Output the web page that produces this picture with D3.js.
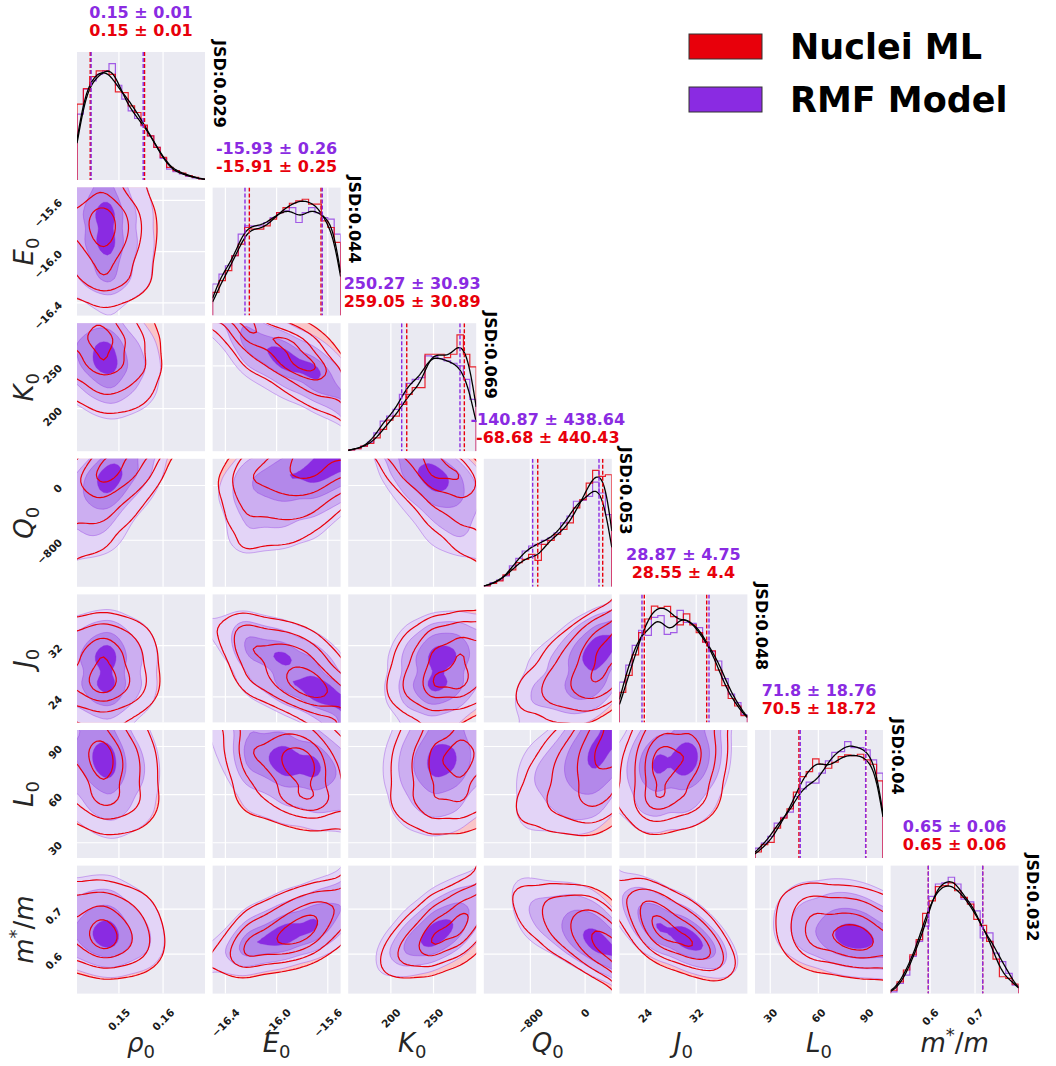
<!DOCTYPE html>
<html>
<head>
<meta charset="utf-8">
<script src="https://cdn.jsdelivr.net/npm/d3@7"></script>
<style>
  body { margin: 0; background: #fff; }
  svg { display: block; font-family: "DejaVu Sans", sans-serif; }
  .tick { font-size: 10.5px; font-weight: bold; fill: #1a1a1a; }
  .axis-label { font-size: 26px; fill: #262626; }
  .stat { font-size: 16px; font-weight: bold; }
  .jsd { font-size: 16px; font-weight: bold; fill: #000; }
  .legend-text { font-size: 35px; font-weight: bold; fill: #000; }
</style>
</head>
<body>
<svg id="chart" width="1056" height="1066"></svg>
<script>
/* ============================================================
   Data
   ============================================================ */

// parameter order: rho0, E0, K0, Q0, J0, L0, m*/m
const axisRanges = [[0.1405, 0.1695], [-16.5, -15.5], [150, 300], [-1480, 390], [20, 40], [20.5, 100.3], [0.512, 0.797]];
const tickValues = [[0.15, 0.16], [-16.4, -16.0, -15.6], [200, 250], [-800, 0], [24, 32], [30, 60, 90], [0.6, 0.7]];
const tickLabels = [['0.15', '0.16'], ['\u221216.4', '\u221216.0', '\u221215.6'], ['200', '250'], ['\u2212800', '0'], ['24', '32'], ['30', '60', '90'], ['0.6', '0.7']];

// 20-bin histograms (relative counts) for RMF Model (purple) and Nuclei ML (red)
const histRMF = [
  [198, 273, 298, 318, 328, 350, 285, 243, 208, 185, 163, 133, 98, 65, 33, 25, 18, 11, 6, 3],
  [95, 125, 150, 180, 245, 270, 270, 270, 280, 295, 310, 315, 325, 280, 310, 325, 310, 295, 290, 245],
  [4, 8, 15, 27, 55, 90, 105, 125, 170, 203, 215, 220, 285, 283, 277, 270, 263, 255, 215, 155],
  [3, 13, 20, 33, 63, 86, 108, 123, 128, 140, 148, 163, 193, 213, 258, 261, 273, 316, 283, 218],
  [118, 168, 226, 270, 255, 308, 313, 258, 263, 328, 293, 290, 278, 236, 208, 180, 128, 83, 58, 23],
  [30, 45, 65, 105, 122, 138, 185, 208, 228, 225, 255, 292, 318, 320, 350, 332, 332, 325, 295, 255],
  [5, 30, 55, 110, 155, 200, 288, 325, 328, 345, 325, 280, 272, 245, 165, 180, 120, 95, 60, 25]
];
const histML = [
  [228, 275, 311, 328, 328, 318, 265, 263, 223, 203, 165, 133, 98, 68, 38, 28, 21, 13, 8, 3],
  [70, 105, 135, 180, 215, 265, 260, 260, 270, 290, 310, 325, 338, 345, 350, 335, 335, 285, 265, 220],
  [4, 8, 15, 23, 40, 65, 93, 105, 140, 170, 190, 190, 290, 290, 290, 280, 290, 348, 290, 252],
  [3, 10, 18, 36, 51, 73, 83, 98, 80, 128, 140, 158, 173, 193, 238, 263, 313, 351, 333, 338],
  [88, 138, 198, 263, 303, 341, 336, 340, 310, 286, 318, 286, 263, 235, 210, 153, 108, 70, 48, 20],
  [18, 40, 47, 90, 120, 148, 198, 245, 260, 298, 282, 270, 288, 305, 310, 308, 312, 295, 282, 232],
  [10, 35, 70, 115, 160, 238, 275, 317, 320, 328, 305, 285, 265, 220, 202, 155, 102, 50, 45, 28]
];

// 16% / 84% quantile markers (dashed lines)
const quantRMF = [[0.1437, 0.1555], [-16.247, -15.643], [212.7, 281.0], [-766, 203], [23.53, 34.0], [48.7, 89.5], [0.596, 0.717]];
const quantML = [[0.1435, 0.1558], [-16.213, -15.653], [218.6, 286.1], [-692, 257], [23.89, 33.64], [47.9, 89.5], [0.596, 0.717]];

const meanRMF = [0.15, -15.93, 250.27, -140.87, 28.87, 71.8, 0.65];
const stdRMF = [0.01, 0.26, 30.93, 438.64, 4.75, 18.76, 0.06];
const meanML = [0.15, -15.91, 259.05, -68.68, 28.55, 70.5, 0.65];
const stdML = [0.01, 0.25, 30.89, 440.43, 4.4, 18.72, 0.06];
const jsdValues = [0.029, 0.044, 0.069, 0.053, 0.048, 0.04, 0.032];

// correlation of each lower-triangle pair (row var vs column var)
const pairCorr = [
  [],
  [-0.05],
  [-0.15, -0.6],
  [0.35, 0.3, -0.4],
  [0.0, -0.5, 0.15, 0.4],
  [-0.15, -0.2, 0.1, 0.35, 0.15],
  [-0.1, 0.5, 0.55, -0.55, -0.6, -0.2]
];

const axisLabels = [
  [['\u03c1', 'i'], ['0', 'sub']],
  [['E', 'i'], ['0', 'sub']],
  [['K', 'i'], ['0', 'sub']],
  [['Q', 'i'], ['0', 'sub']],
  [['J', 'i'], ['0', 'sub']],
  [['L', 'i'], ['0', 'sub']],
  [['m', 'i'], ['*', 'sup'], ['/', 'n'], ['m', 'i']]
];

const legendNames = ['Nuclei ML', 'RMF Model'];

/* ============================================================
   Layout / style
   ============================================================ */

const C_RMF = '#8a2be2';
const C_ML = '#e8000b';
const BANDS = ['#e3d4f7', '#ccaef1', '#b388ea', '#8a2be2'];
const ML_FILL = '#f9c5c9';

const N = axisRanges.length;
const left0 = 77, top0 = 52, cell = 128, step = 135.6;
const colX = j => left0 + j * step;
const rowY = i => top0 + i * step;

const svg = d3.select('#chart');
const defs = svg.append('defs');

// corner-style mass levels (0.5, 1, 1.5, 2 sigma)
const massLevels = [0.5, 1, 1.5, 2].map(s => 1 - Math.exp(-0.5 * s * s));
const G = 36, PAD = 3, GN = G + 2 * PAD;

/* ============================================================
   Helpers
   ============================================================ */

// gaussian smoothing of a histogram; edgeNorm keeps levels flat at the borders
function smooth(hist, range, bwBins, edgeNorm) {
  const nb = hist.length, d = (range[1] - range[0]) / nb, bw = bwBins * d;
  const centers = hist.map((_, k) => range[0] + (k + 0.5) * d);
  return x => {
    let s = 0, w = 0;
    centers.forEach((c, k) => {
      const g = Math.exp(-0.5 * ((x - c) / bw) ** 2);
      s += hist[k] * g; w += g;
    });
    return edgeNorm ? s / w : s * d / (bw * Math.sqrt(2 * Math.PI));
  };
}

function normInv(p) {
  const a = [-3.969683028665376e+01, 2.209460984245205e+02, -2.759285104469687e+02, 1.383577518672690e+02, -3.066479806614716e+01, 2.506628277459239e+00];
  const b = [-5.447609879822406e+01, 1.615858368580409e+02, -1.556989798598866e+02, 6.680131188771972e+01, -1.328068155288572e+01];
  const c = [-7.784894002430293e-03, -3.223964580411365e-01, -2.400758277161838e+00, -2.549732539343734e+00, 4.374664141464968e+00, 2.938163982698783e+00];
  const d = [7.784695709041462e-03, 3.224671290700398e-01, 2.445134137142996e+00, 3.754408661907416e+00];
  const pl = 0.02425;
  if (p < pl) {
    const q = Math.sqrt(-2 * Math.log(p));
    return (((((c[0] * q + c[1]) * q + c[2]) * q + c[3]) * q + c[4]) * q + c[5]) / ((((d[0] * q + d[1]) * q + d[2]) * q + d[3]) * q + 1);
  }
  if (p > 1 - pl) {
    const q = Math.sqrt(-2 * Math.log(1 - p));
    return -(((((c[0] * q + c[1]) * q + c[2]) * q + c[3]) * q + c[4]) * q + c[5]) / ((((d[0] * q + d[1]) * q + d[2]) * q + d[3]) * q + 1);
  }
  const q = p - 0.5, r = q * q;
  return (((((a[0] * r + a[1]) * r + a[2]) * r + a[3]) * r + a[4]) * r + a[5]) * q / (((((b[0] * r + b[1]) * r + b[2]) * r + b[3]) * r + b[4]) * r + 1);
}

function marginal(hist, v) {
  const [a, b] = axisRanges[v];
  const f = smooth(hist, axisRanges[v], 1.2, true);
  const fx = d3.range(GN).map(k => f(a + (k - PAD + 0.5) * (b - a) / G));
  const tot = d3.sum(fx);
  let cum = 0;
  const z = fx.map(val => {
    const p = (cum + val / 2) / tot;
    cum += val;
    return normInv(Math.min(1 - 1e-6, Math.max(1e-6, p)));
  });
  return { fx, z };
}

// 2D density from the two marginals joined by a gaussian copula
function density(hists, i, j, r) {
  const mx = marginal(hists[j], j), my = marginal(hists[i], i);
  const vals = new Float64Array(GN * GN);
  const k = 1 / Math.sqrt(1 - r * r);
  for (let row = 0; row < GN; row++) {
    const yi = GN - 1 - row;
    for (let col = 0; col < GN; col++) {
      const zx = mx.z[col], zy = my.z[yi];
      const cop = k * Math.exp(-(r * r * (zx * zx + zy * zy) - 2 * r * zx * zy) / (2 * (1 - r * r)));
      vals[row * GN + col] = cop * mx.fx[col] * my.fx[yi];
    }
  }
  return vals;
}

function levelThresholds(vals) {
  const inside = [];
  for (let r = PAD; r < PAD + G; r++) for (let c = PAD; c < PAD + G; c++) inside.push(vals[r * GN + c]);
  inside.sort((a, b) => b - a);
  const cum = d3.cumsum(inside), tot = cum[cum.length - 1];
  return massLevels.map(L => inside[Math.min(inside.length - 1, d3.bisectLeft(cum, L * tot))]).sort((a, b) => a - b);
}

/* ============================================================
   Panels
   ============================================================ */

function drawDiag(body, v, xs, y0) {
  const hr = histRMF[v], hm = histML[v];
  const [a, b] = axisRanges[v];
  const nb = hr.length, d = (b - a) / nb;
  const ys = d3.scaleLinear().domain([0, 1.1 * d3.max([...hr, ...hm])]).range([y0 + cell, y0]);

  const stepLine = d3.line().x(p => xs(p[0])).y(p => ys(p[1])).curve(d3.curveStepAfter);
  const stepPts = h => [[a, 0], ...h.map((val, k) => [a + k * d, val]), [b, h[nb - 1]], [b, 0]];
  body.append('path').attr('d', stepLine(stepPts(hr)))
    .attr('fill', 'none').attr('stroke', C_RMF).attr('stroke-opacity', 0.75).attr('stroke-width', 1.2);
  body.append('path').attr('d', stepLine(stepPts(hm)))
    .attr('fill', 'none').attr('stroke', C_ML).attr('stroke-opacity', 0.85).attr('stroke-width', 1.2);

  // KDE curves
  const kdeLine = d3.line().x(p => xs(p[0])).y(p => ys(p[1]));
  const grid = d3.range(121).map(k => a + k * (b - a) / 120);
  [hr, hm].forEach(h => {
    const f = smooth(h, axisRanges[v], 1.0, false);
    body.append('path').attr('d', kdeLine(grid.map(x => [x, f(x)])))
      .attr('fill', 'none').attr('stroke', '#000').attr('stroke-width', 1.3);
  });

  // quantile markers
  [[quantML[v], C_ML], [quantRMF[v], C_RMF]].forEach(([q, col]) => {
    q.forEach(x => {
      body.append('line').attr('x1', xs(x)).attr('x2', xs(x)).attr('y1', y0).attr('y2', y0 + cell)
        .attr('stroke', col).attr('stroke-width', 1.4).attr('stroke-dasharray', '4,2');
    });
  });
}

function drawPair(body, i, j, x0, y0) {
  const r = pairCorr[i][j];
  const proj = d3.geoTransform({
    point(px, py) { this.stream.point(x0 + (px - PAD) * cell / G, y0 + (py - PAD) * cell / G); }
  });
  const path = d3.geoPath(proj);
  const build = hists => {
    const vals = density(hists, i, j, r);
    return d3.contours().size([GN, GN]).thresholds(levelThresholds(vals))(vals);
  };
  const cR = build(histRMF), cM = build(histML);

  body.append('path').attr('d', path(cM[0])).attr('fill', ML_FILL);
  cR.forEach((c, k) => {
    body.append('path').attr('d', path(c)).attr('fill', BANDS[k])
      .attr('stroke', C_RMF).attr('stroke-opacity', 0.35).attr('stroke-width', 1);
  });
  cM.forEach(c => {
    body.append('path').attr('d', path(c)).attr('fill', 'none')
      .attr('stroke', C_ML).attr('stroke-width', 1.2);
  });
}

for (let i = 0; i < N; i++) {
  for (let j = 0; j <= i; j++) {
    const x0 = colX(j), y0 = rowY(i);
    const g = svg.append('g');
    const clipId = `clip-${i}-${j}`;
    defs.append('clipPath').attr('id', clipId).append('rect')
      .attr('x', x0).attr('y', y0).attr('width', cell).attr('height', cell);

    g.append('rect').attr('x', x0).attr('y', y0).attr('width', cell).attr('height', cell).attr('fill', '#eaeaf2');

    const xs = d3.scaleLinear().domain(axisRanges[j]).range([x0, x0 + cell]);
    tickValues[j].forEach(t => {
      g.append('line').attr('x1', xs(t)).attr('x2', xs(t)).attr('y1', y0).attr('y2', y0 + cell)
        .attr('stroke', '#fff').attr('stroke-width', 1.2);
    });
    let ys = null;
    if (i !== j) {
      ys = d3.scaleLinear().domain(axisRanges[i]).range([y0 + cell, y0]);
      tickValues[i].forEach(t => {
        g.append('line').attr('x1', x0).attr('x2', x0 + cell).attr('y1', ys(t)).attr('y2', ys(t))
          .attr('stroke', '#fff').attr('stroke-width', 1.2);
      });
    }

    const body = g.append('g').attr('clip-path', `url(#${clipId})`);
    if (i === j) drawDiag(body, i, xs, y0);
    else drawPair(body, i, j, x0, y0);

    // bottom tick labels
    if (i === N - 1) {
      tickValues[j].forEach((t, k) => {
        const txt = svg.append('text').attr('class', 'tick').attr('text-anchor', 'middle')
          .attr('dominant-baseline', 'central').text(tickLabels[j][k]);
        const w = txt.node().getComputedTextLength();
        const cy = y0 + cell + 14 + (w + 7.6) / 2.83;
        txt.attr('transform', `translate(${xs(t)},${cy}) rotate(-45)`);
      });
    }
    // left tick labels
    if (j === 0 && i > 0) {
      tickValues[i].forEach((t, k) => {
        svg.append('text').attr('class', 'tick').attr('text-anchor', 'end')
          .attr('transform', `translate(${x0 - 14},${ys(t) + 3}) rotate(-45)`)
          .text(tickLabels[i][k]);
      });
    }
  }
}

/* ============================================================
   Axis labels, stats, JSD, legend
   ============================================================ */

function mathLabel(sel, parts) {
  let shift = 0;
  parts.forEach(([s, kind]) => {
    const t = sel.append('tspan').text(s);
    if (kind === 'i') t.attr('font-style', 'italic');
    if (kind === 'sub') { t.attr('font-size', '18px').attr('dy', 6 - shift); shift = 6; }
    else if (kind === 'sup') { t.attr('font-size', '18px').attr('dy', -11 - shift); shift = -11; }
    else if (shift !== 0) { t.attr('dy', -shift); shift = 0; }
  });
}

for (let v = 0; v < N; v++) {
  const cx = colX(v) + cell / 2;
  mathLabel(svg.append('text').attr('class', 'axis-label').attr('text-anchor', 'middle')
    .attr('x', cx).attr('y', rowY(N - 1) + cell + 58), axisLabels[v]);
  if (v > 0) {
    const cy = rowY(v) + cell / 2;
    mathLabel(svg.append('text').attr('class', 'axis-label').attr('text-anchor', 'middle')
      .attr('transform', `translate(33,${cy}) rotate(-90)`), axisLabels[v]);
  }

  const top = rowY(v);
  svg.append('text').attr('class', 'stat').attr('text-anchor', 'middle').attr('fill', C_RMF)
    .attr('x', cx).attr('y', top - 34).text(`${meanRMF[v]} \u00b1 ${stdRMF[v]}`);
  svg.append('text').attr('class', 'stat').attr('text-anchor', 'middle').attr('fill', C_ML)
    .attr('x', cx).attr('y', top - 16).text(`${meanML[v]} \u00b1 ${stdML[v]}`);

  svg.append('text').attr('class', 'jsd').attr('dominant-baseline', 'central')
    .attr('transform', `translate(${colX(v) + cell + 14},${top - 12}) rotate(90)`)
    .text(`JSD:${jsdValues[v]}`);
}

const legend = svg.append('g');
[C_ML, C_RMF].forEach((col, k) => {
  legend.append('rect').attr('x', 689).attr('y', 34 + k * 53).attr('width', 73).attr('height', 25)
    .attr('fill', col).attr('stroke', '#333').attr('stroke-width', 1);
  legend.append('text').attr('class', 'legend-text').attr('x', 790).attr('y', 59 + k * 53).text(legendNames[k]);
});
</script>
</body>
</html>
